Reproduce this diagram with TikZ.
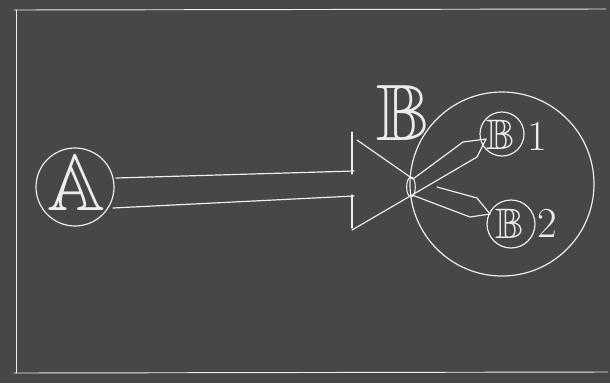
\documentclass[tikz,border=0pt]{standalone}
\usepackage{amssymb}
\usetikzlibrary{shapes.geometric}
\definecolor{board}{RGB}{71,71,71}
\definecolor{chalk}{RGB}{236,236,236}
\begin{document}
\begin{tikzpicture}[x=0.75pt,y=-0.75pt,
  chalkline/.style={draw=chalk,line width=0.9pt,line cap=round,line join=round},
  chalkcircle/.style={circle,draw=chalk,line width=0.9pt,inner sep=0pt,text=chalk},
  chalktext/.style={text=chalk,inner sep=0pt}]
\fill[board] (0,0) rectangle (610,383);
\useasboundingbox (0,0) rectangle (610,383);
% frame
\coordinate (f1) at (16,373);
\coordinate (f2) at (16,10);
\coordinate (f3) at (606,9);
\coordinate (f4) at (14,373);
\coordinate (f5) at (608,372);
\draw[chalkline,line width=0.7pt] (f1) -- (f2);
\draw[chalkline,line width=0.7pt] (14,10) -- (f3);
\draw[chalkline,line width=0.7pt] (f4) -- (f5);
% A
\node[chalkcircle,minimum size=58.5pt] (A) at (75,187) {};
\node[chalktext] (Atext) at (76,183) {\fontsize{60}{60}\selectfont$\mathbb{A}$};
% ticks
\coordinate (t1a) at (352,132);
\coordinate (t1b) at (352,174);
\coordinate (t2a) at (352,195);
\coordinate (t2b) at (352,228);
\draw[chalkline] (t1a) -- (t1b);
\draw[chalkline] (t2a) -- (t2b);
\coordinate (u1) at (116,178);
\coordinate (u2) at (354,171);
\coordinate (l1) at (113,208);
\coordinate (l2) at (354,196);
\draw[chalkline] (u1) -- (u2);
\draw[chalkline] (l1) -- (l2);
% big circle
\node[chalkcircle,minimum size=138pt] (C) at (502,184) {};
\node[chalktext] (Blabel) at (403,113) {\fontsize{60}{60}\selectfont$\mathbb{B}$};
% junction
\node[draw=chalk,line width=0.8pt,ellipse,minimum width=6.5pt,minimum height=15pt,inner sep=0pt] (J) at (411,187) {};
\coordinate (d1) at (357,140);
\coordinate (d2) at (352,230);
\coordinate (j1) at (413,179);
\coordinate (j2) at (412,195);
% B1, B2
\node[chalkcircle,minimum size=33pt] (B1) at (502,134) {};
\node[chalktext] (B1t) at (501,135) {\fontsize{32}{32}\selectfont$\mathbb{B}$};
\node[chalktext] (B1n) at (537,136) {\fontsize{32}{32}\selectfont 1};
\node[chalkcircle,minimum size=36pt] (B2) at (511,224) {};
\node[chalktext] (B2t) at (510,224) {\fontsize{32}{32}\selectfont$\mathbb{B}$};
\node[chalktext] (B2n) at (547,223) {\fontsize{32}{32}\selectfont 2};
% connectors
\coordinate (p1) at (463,142);
\coordinate (p2) at (477,157);
\coordinate (tip1) at (486,139);
\coordinate (q0) at (437,187);
\coordinate (q1) at (477,198);
\coordinate (q2) at (470,217);
\coordinate (tip2) at (490,214);
\draw[chalkline] (d1) -- (j1);
\draw[chalkline] (d2) -- (j2) -- (p2) -- (tip1);
\draw[chalkline] (j1) -- (p1) -- (tip1);
\draw[chalkline] (q0) -- (q1) -- (tip2);
\draw[chalkline] (j2) -- (q2) -- (tip2);
\end{tikzpicture}
\end{document}
